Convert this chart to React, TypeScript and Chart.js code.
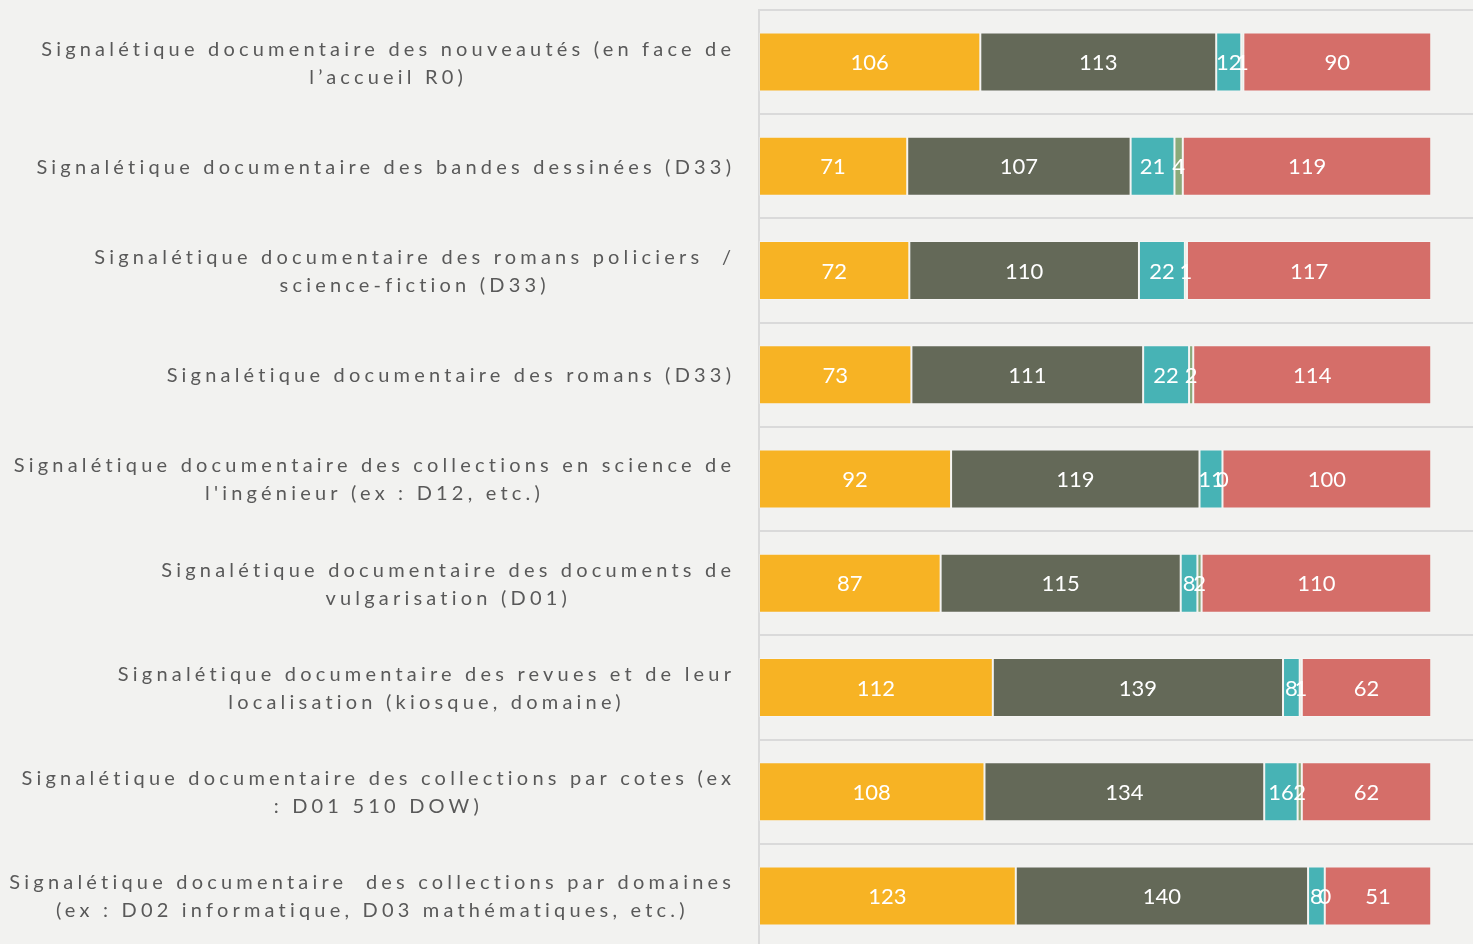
import React, { useEffect, useRef } from "react";
import { Chart, registerables } from "chart.js";

Chart.register(...registerables);

const categories: string[][] = [
  ["Signalétique documentaire des nouveautés (en face de", "l’accueil R0)"],
  ["Signalétique documentaire des bandes dessinées (D33)"],
  ["Signalétique documentaire des romans policiers  /", "science-fiction (D33)"],
  ["Signalétique documentaire des romans (D33)"],
  ["Signalétique documentaire des collections en science de", "l'ingénieur (ex : D12, etc.)"],
  ["Signalétique documentaire des documents de", "vulgarisation (D01)"],
  ["Signalétique documentaire des revues et de leur", "localisation (kiosque, domaine)"],
  ["Signalétique documentaire des collections par cotes (ex", ": D01 510 DOW)"],
  ["Signalétique documentaire  des collections par domaines", "(ex : D02 informatique, D03 mathématiques, etc.)"],
];

const series1 = [106, 71, 72, 73, 92, 87, 112, 108, 123];
const series2 = [113, 107, 110, 111, 119, 115, 139, 134, 140];
const series3 = [12, 21, 22, 22, 11, 8, 8, 16, 8];
const series4 = [1, 4, 1, 2, 0, 2, 1, 2, 0];
const series5 = [90, 119, 117, 114, 100, 110, 62, 62, 51];

const colors = ["#f7b324", "#646958", "#47b3b5", "#8aaa7a", "#d56e69"];

const BG = "#f2f2f0";
const FONT = "Lato, 'Noto Sans', sans-serif";
const SPACING = 4.2;

export default function App() {
  const ref = useRef<HTMLCanvasElement | null>(null);

  useEffect(() => {
    document.body.style.margin = "0";
    document.body.style.background = BG;
    document.body.style.overflow = "hidden";
    const canvas = ref.current!;
    const labelPlugin = {
      id: "customLabels",
      afterDatasetsDraw(chart: any) {
        const ctx = chart.ctx as CanvasRenderingContext2D;
        ctx.save();
        // value labels
        ctx.fillStyle = "#ffffff";
        ctx.font = `22px ${FONT}`;
        ctx.textAlign = "center";
        ctx.textBaseline = "middle";
        chart.data.datasets.forEach((ds: any, di: number) => {
          const meta = chart.getDatasetMeta(di);
          meta.data.forEach((bar: any, i: number) => {
            const v = ds.data[i];
            const cx = (bar.x + bar.base) / 2;
            ctx.fillText(String(v), cx, bar.y + 1);
          });
        });
        // category labels
        const yScale = chart.scales.y;
        ctx.fillStyle = "#595959";
        ctx.font = `20px ${FONT}`;
        (ctx as any).letterSpacing = SPACING + "px";
        const right = 731;
        const lh = 28;
        categories.forEach((lines, i) => {
          const cy = yScale.getPixelForValue(i) + 1;
          const widths = lines.map((l) => ctx.measureText(l).width - SPACING);
          const maxW = Math.max(...widths);
          const center = right - maxW / 2;
          lines.forEach((l, li) => {
            const y = cy + (li - (lines.length - 1) / 2) * lh;
            ctx.textAlign = "left";
            ctx.fillText(l, center - widths[li] / 2, y);
          });
        });
        ctx.restore();
      },
    };

    const chart = new Chart(canvas, {
      type: "bar",
      data: {
        labels: categories.map((c) => c.join(" ")),
        datasets: [series1, series2, series3, series4, series5].map((d, i) => ({
          label: "S" + (i + 1),
          data: d,
          backgroundColor: colors[i],
          borderColor: "rgba(255,255,255,0.25)",
          borderWidth: 1,
          borderSkipped: false,
          categoryPercentage: 1,
          barPercentage: 0.566,
        })),
      },
      options: {
        indexAxis: "y",
        responsive: false,
        animation: false,
        layout: { padding: { left: 759, top: 10, right: 0, bottom: 0 } },
        plugins: { legend: { display: false }, tooltip: { enabled: false } },
        scales: {
          x: { stacked: true, min: 0, max: 342, display: false },
          y: {
            stacked: true,
            ticks: { display: false },
            grid: { offset: true, color: "#dadada", lineWidth: 2, drawTicks: false },
            border: { display: true, color: "#dadada", width: 2 },
          },
        },
      },
      plugins: [labelPlugin],
    });
    return () => chart.destroy();
  }, []);

  return (
    <div style={{ position: "fixed", left: 0, top: 0, width: 1473, height: 944, background: BG, overflow: "hidden" }}>
      <canvas ref={ref} width={1473} height={948} style={{ display: "block" }} />
    </div>
  );
}
